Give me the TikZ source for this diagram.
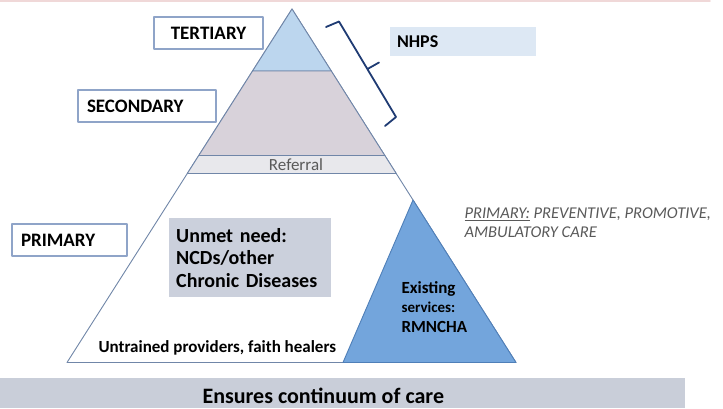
\documentclass[tikz,border=0pt]{standalone}
\usepackage{fontspec}
\setmainfont{Carlito}
\usetikzlibrary{calc}
\definecolor{edgeblue}{HTML}{7086A8}
\definecolor{boxblue}{HTML}{8FA4C8}
\definecolor{tertfill}{HTML}{BCD6EE}
\definecolor{secfill}{HTML}{D8D2DA}
\definecolor{reffill}{HTML}{E8E8EC}
\definecolor{servfill}{HTML}{73A5DC}
\definecolor{servedge}{HTML}{4F7FB8}
\definecolor{needfill}{HTML}{CBD0DC}
\definecolor{bandfill}{HTML}{C9CED9}
\definecolor{nhpsfill}{HTML}{DDE8F4}
\definecolor{bracenavy}{HTML}{1F3B73}
\definecolor{notegray}{HTML}{595959}
\definecolor{rulepink}{HTML}{F0D8D8}
\tikzset{
  lvlbox/.style={draw=boxblue, fill=white, line width=1.2pt, minimum height=32pt, inner xsep=9pt, align=left, font=\fontsize{19}{21}\selectfont\bfseries},
  layer/.style={draw=edgeblue, line width=0.9pt},
}
\begin{document}
\begin{tikzpicture}[x=1pt, y=-1pt, line join=round, line cap=round, font=\bfseries]
\useasboundingbox (0,0) rectangle (723,408);
\def\ta{0.1754} \def\tb{0.4144} \def\tc{0.4653} \def\ts{0.5403} % cuts on the sides
\coordinate (A) at (292,9);
\coordinate (L) at (67,362.5);
\coordinate (R) at (516,362.5);
\coordinate (S) at (343,362.5);
\draw[rulepink, line width=1.5pt] (0,1)--(710,1);
% pyramid
\draw[layer, fill=white] (A)--(L)--(R)--cycle;
\draw[layer, fill=tertfill] (A)--($(A)!\ta!(L)$)--($(A)!\ta!(R)$)--cycle;
\draw[layer, fill=secfill] ($(A)!\ta!(L)$)--($(A)!\tb!(L)$)--($(A)!\tb!(R)$)--($(A)!\ta!(R)$)--cycle;
\draw[layer, fill=reffill] ($(A)!\tb!(L)$)--($(A)!\tc!(L)$)--($(A)!\tc!(R)$)--($(A)!\tb!(R)$)--cycle;
\draw[servedge, line width=0.9pt, fill=servfill] ($(A)!\ts!(R)$)--(S)--(R)--cycle;
\node[text=notegray, font=\fontsize{17}{19}\selectfont] (referral) at (296,164.5) {Referral};
% level boxes
\node[lvlbox, text width=91pt, align=center] (tertiary) at (208.5,33) {TERTIARY};
\node[lvlbox, text width=120pt] (secondary) at (147,106) {SECONDARY};
\node[lvlbox, text width=97pt] (primary) at (69.5,240) {PRIMARY};
% inside the primary level
\node[fill=needfill, text width=148pt, inner xsep=7pt, minimum height=79pt, align=left, anchor=north west,
  font=\fontsize{20}{22.5}\selectfont\bfseries] (unmet) at (169,218) {Unmet need:\\NCDs/other\\Chronic Diseases};
\node[anchor=west, align=left, font=\fontsize{17}{19.5}\selectfont\bfseries] (existing) at (398,307)
  {Existing\\{\fontsize{15}{19.5}\selectfont services:}\\RMNCHA};
\node[anchor=west, font=\fontsize{17}{19}\selectfont\bfseries] (untrained) at (95,348) {Untrained providers, faith healers};
% NHPS and brace
\node[fill=nhpsfill, text width=132pt, inner xsep=7pt, minimum height=29pt, align=left,
  font=\fontsize{18}{20}\selectfont\bfseries] (nhps) at (463,41.5) {NHPS};
\draw[bracenavy, line width=1.8pt] (326,27)--(339,21.5)--(396,117)--(385,126)
  (367.5,69)--(379,62.5);
% side note
\node[anchor=west, align=left, text=notegray, font=\fontsize{16.5}{19}\selectfont\itshape] (primnote) at (461,222.5)
  {\underline{PRIMARY:} PREVENTIVE, PROMOTIVE,\\AMBULATORY CARE};
% bottom band
\fill[bandfill] (0,377.5) rectangle (685,408);
\node[anchor=west, font=\fontsize{22}{24}\selectfont\bfseries] (continuum) at (199,395.5) {Ensures continuum of care};
\end{tikzpicture}
\end{document}
